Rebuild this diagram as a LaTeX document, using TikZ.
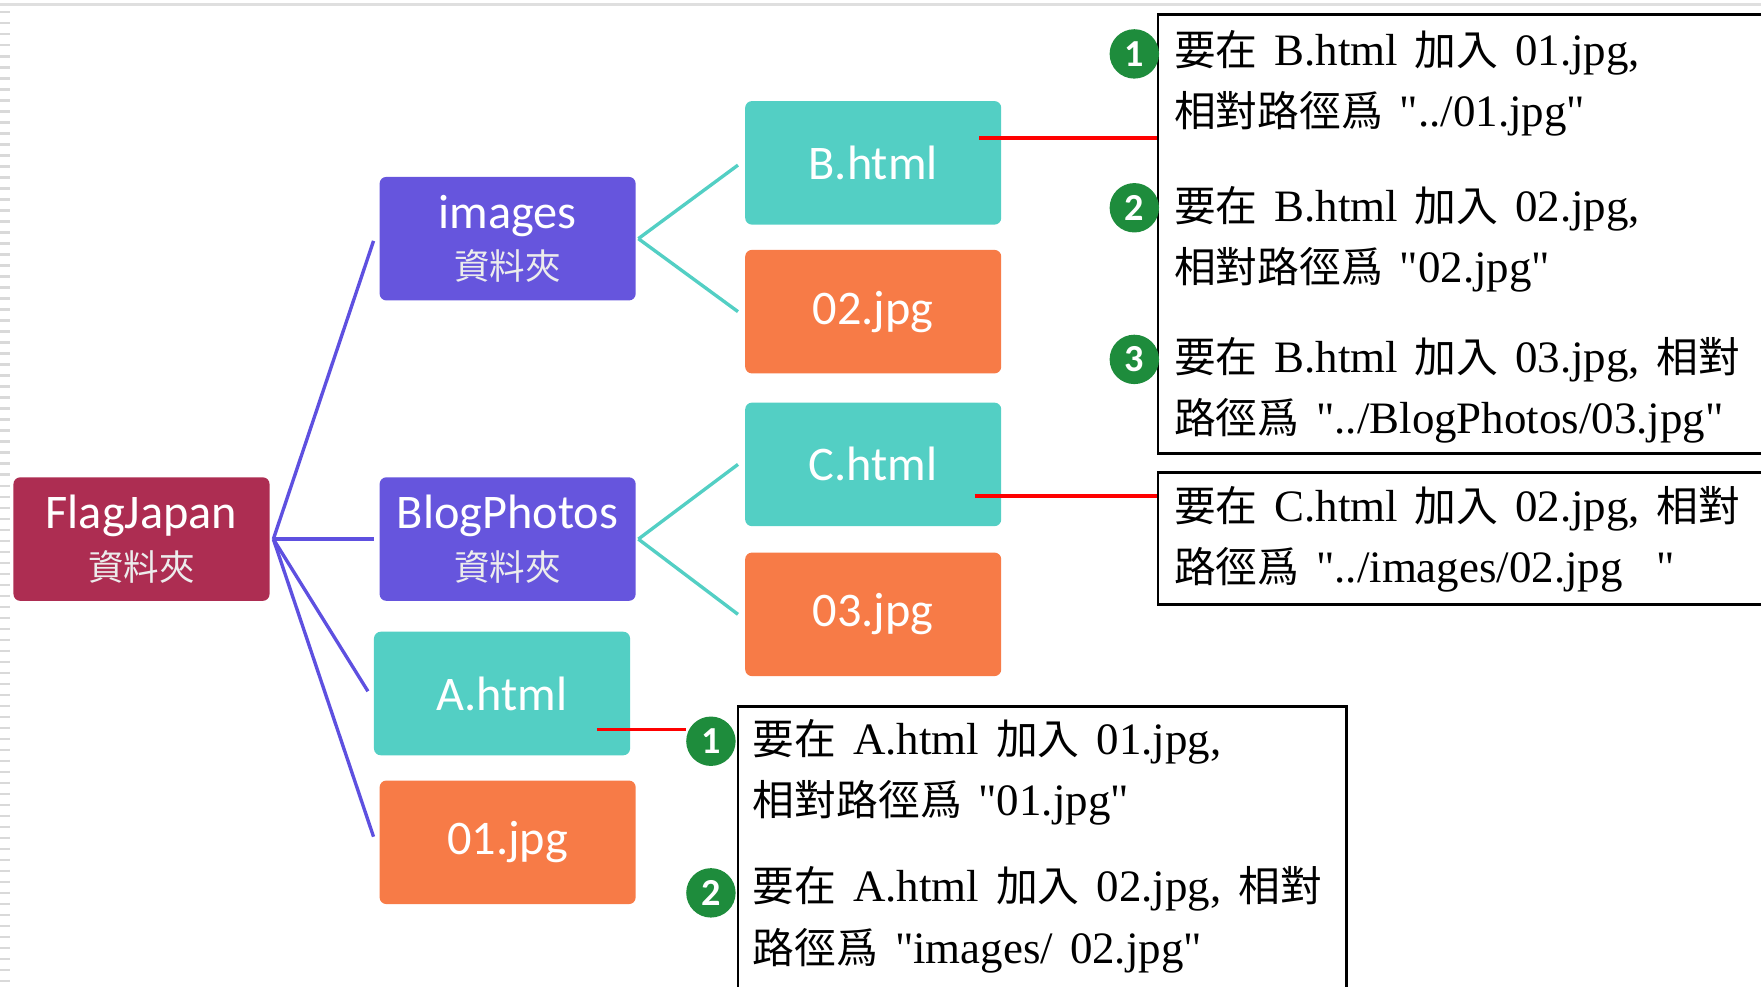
\documentclass[tikz,border=0pt]{standalone}
\usepackage{fontspec}
\setmainfont{Liberation Serif}[WordSpace=1.5,Ligatures=TeXOff]
\newfontfamily\cjk{Noto Sans CJK TC}[Scale=0.93]
\newfontfamily\boxfont{Carlito}
\usetikzlibrary{positioning,calc}
\definecolor{crimson}{HTML}{AD2D52}
\definecolor{folderblue}{HTML}{6655DD}
\definecolor{pageteal}{HTML}{53CFC4}
\definecolor{photoorange}{HTML}{F77B47}
\definecolor{branchblue}{HTML}{5E50E0}
\definecolor{notegreen}{HTML}{1E8C3C}
\newcommand{\foldertag}[1]{{\cjk\fontsize{17}{17}\selectfont\color{white!85!gray}#1}}
\tikzset{
  filebox/.style={shape=rectangle,rounded corners=3pt,minimum width=114pt,
    minimum height=55pt,inner sep=0pt,text=white,align=center,
    font=\boxfont\fontsize{21.5}{23}\selectfont},
  rootbox/.style={filebox,fill=crimson},
  folderbox/.style={filebox,fill=folderblue},
  htmlbox/.style={filebox,fill=pageteal},
  jpgbox/.style={filebox,fill=photoorange},
  notebox/.style={draw=black,line width=1.2pt,fill=white,inner sep=0pt},
  notetext/.style={anchor=west,align=left,inner sep=0pt,
    font=\fontsize{20}{27.25}\selectfont},
  numball/.style={shape=circle,fill=notegreen,minimum size=22pt,inner sep=0pt,
    text=white,font=\boxfont\bfseries\fontsize{17}{17}\selectfont},
  trunk/.style={color=branchblue,line width=1.5pt},
  twig/.style={color=pageteal,line width=1.5pt},
  pointer/.style={color=red,line width=1.6pt}
}

\begin{document}
\begin{tikzpicture}[x=0.5pt,y=-0.5pt]
    \clip (0,0) rectangle (1568,878);
    % screenshot edges
    \draw [gray!25,line width=1pt] (0,4) -- (1568,4);
    \draw [gray!30,line width=4.5pt,dash pattern=on 1pt off 3.9pt] (4.5,10) -- (4.5,878);

    % folder tree
    \node (flag) [rootbox] at (126,480) {FlagJapan\\\foldertag{資料夾}};
    \node (images) [folderbox] at (452,212.5) {images\\\foldertag{資料夾}};
    \node (blog) [folderbox] at (452,480) {BlogPhotos\\\foldertag{資料夾}};
    \node (ahtml) [htmlbox] at (447,617.5) {A.html};
    \node (jpg01) [jpgbox] at (452,750) {01.jpg};
    \node (bhtml) [htmlbox] at (777.5,145) {B.html};
    \node (jpg02) [jpgbox] at (777.5,277.5) {02.jpg};
    \node (chtml) [htmlbox] at (777.5,413.5) {C.html};
    \node (jpg03) [jpgbox] at (777.5,547) {03.jpg};

    \draw [trunk] ($(flag.east)+(3,0)$) edge ($(images.west)+(-5,2)$)
      edge ($(blog.west)+(-5,0)$) edge ($(ahtml.west)+(-5,-2)$)
      edge ($(jpg01.west)+(-5,-5)$);
    \draw [twig] ($(images.east)+(2,0)$) edge ($(bhtml.west)+(-6,2)$)
      edge ($(jpg02.west)+(-6,0)$);
    \draw [twig] ($(blog.east)+(2,0)$) edge ($(chtml.west)+(-6,0)$)
      edge ($(jpg03.west)+(-6,0)$);

    % notes
    \node (noteB) [notebox,minimum width=274.5pt,minimum height=195.5pt] at (1305.5,208.5) {};
    \node (noteC) [notebox,minimum width=274.5pt,minimum height=58.5pt] at (1305.5,479.5) {};
    \node (noteA) [notebox,minimum width=271pt,minimum height=130.5pt] at (928,759.5) {};

    \coordinate (bdot) at ($(bhtml.east)+(-20,-22)$);
    \coordinate (cdot) at ($(chtml.east)+(-24,28)$);
    \coordinate (adot) at ($(ahtml.east)+(-30,32)$);
    \draw [pointer] (bdot) -- (bdot -| noteB.west);
    \draw [pointer] (cdot) -- (cdot -| noteC.west);

    \node (b1) [numball] at (1010,48) {1};
    \node (b2) [numball] at (1010,185) {2};
    \node (b3) [numball] at (1010,320) {3};
    \node (a1) [numball] at (633,660) {1};
    \node (a2) [numball] at (633,795) {2};
    \draw [pointer] (adot) -- (adot -| a1.west);

    \node (tb1) [notetext] at (1045,74) {{\cjk 要在} B.html {\cjk 加入} 01.jpg,\\{\cjk 相對路徑爲} "../01.jpg"};
    \node (tb2) [notetext] at (1045,213) {{\cjk 要在} B.html {\cjk 加入} 02.jpg,\\{\cjk 相對路徑爲} "02.jpg"};
    \node (tb3) [notetext] at (1045,347.5) {{\cjk 要在} B.html {\cjk 加入} 03.jpg, {\cjk 相對}\\{\cjk 路徑爲} "../BlogPhotos/03.jpg"};
    \node (tc1) [notetext] at (1045,480.5) {{\cjk 要在} C.html {\cjk 加入} 02.jpg, {\cjk 相對}\\{\cjk 路徑爲} "../images/02.jpg\ \ "};
    \node (ta1) [notetext] at (670,687.5) {{\cjk 要在} A.html {\cjk 加入} 01.jpg,\\{\cjk 相對路徑爲} "01.jpg"};
    \node (ta2) [notetext] at (670,819) {{\cjk 要在} A.html {\cjk 加入} 02.jpg, {\cjk 相對}\\{\cjk 路徑爲} "images/ 02.jpg"};
\end{tikzpicture}
\end{document}
